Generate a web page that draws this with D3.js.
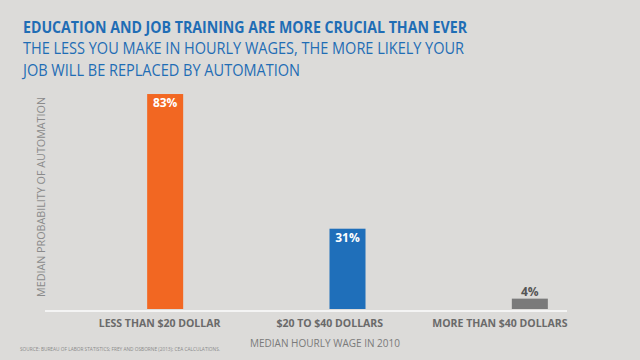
<!DOCTYPE html>
<html><head><meta charset="utf-8">
<script src="https://cdn.jsdelivr.net/npm/d3@7"></script>
<style>html,body{margin:0;padding:0;background:#dcdbd9;}svg{display:block;}</style>
</head><body><svg id="c" width="640" height="360"></svg>
<script>
const categories = ["LESS THAN $20 DOLLAR", "$20 TO $40 DOLLARS", "MORE THAN $40 DOLLARS"];
const values = [83, 31, 4];
const valueLabels = ["83%", "31%", "4%"];
const barColors = ["#f26722", "#1f6fba", "#7a7a7a"];
const labelColors = ["#ffffff", "#ffffff", "#555555"];
const title = "EDUCATION AND JOB TRAINING ARE MORE CRUCIAL THAN EVER";
const subtitle = ["THE LESS YOU MAKE IN HOURLY WAGES, THE MORE LIKELY YOUR", "JOB WILL BE REPLACED BY AUTOMATION"];
const yTitle = "MEDIAN PROBABILITY OF AUTOMATION";
const xTitle = "MEDIAN HOURLY WAGE IN 2010";
const source = "SOURCE: BUREAU OF LABOR STATISTICS; FREY AND OSBORNE (2013); CEA CALCULATIONS.";

const svg = d3.select("#c");
svg.append("rect").attr("width",640).attr("height",360).attr("fill","#dcdbd9");
const font = "'Open Sans', sans-serif";

svg.append("text").attr("x",23).attr("y",33).attr("font-family",font).attr("font-weight",700)
  .attr("font-size",15.5).attr("fill","#1f6db5").attr("textLength",444).attr("lengthAdjust","spacingAndGlyphs").text(title);
subtitle.forEach((s,i)=>{
  svg.append("text").attr("x",23).attr("y",54+i*22).attr("font-family",font).attr("font-weight",400)
    .attr("font-size",16).attr("fill","#1f6db5").attr("textLength", i===0?441:277).attr("lengthAdjust","spacingAndGlyphs").text(s);
});

const x = d3.scaleBand().domain(categories).range([74,621]).paddingInner(0.8025).paddingOuter(0.40125);
const xl = d3.scaleBand().domain(categories).range([74.5,585]);
const y = d3.scaleLinear().domain([0,100]).range([309,50]);

svg.append("line").attr("x1",45).attr("x2",567).attr("y1",311).attr("y2",311).attr("stroke","#f4f4f4").attr("stroke-width",2);

svg.selectAll("rect.bar").data(values).join("rect").attr("class","bar")
  .attr("x",(d,i)=>x(categories[i])).attr("width",x.bandwidth())
  .attr("y",d=>y(d)).attr("height",d=>y(0)-y(d)).attr("fill",(d,i)=>barColors[i]);

svg.selectAll("text.val").data(values).join("text").attr("class","val")
  .attr("x",(d,i)=>x(categories[i])+x.bandwidth()/2)
  .attr("y",(d,i)=> i<2 ? y(d)+13 : y(d)-3)
  .attr("text-anchor","middle").attr("font-family",font).attr("font-weight",700).attr("font-size",12)
  .attr("fill",(d,i)=>labelColors[i]).text((d,i)=>valueLabels[i]);

svg.selectAll("text.cat").data(categories).join("text").attr("class","cat")
  .attr("x",d=>xl(d)+xl.bandwidth()/2).attr("y",327).attr("text-anchor","middle")
  .attr("font-family",font).attr("font-weight",700).attr("font-size",10.5).attr("fill","#6a6a6a").text(d=>d);

svg.append("text").attr("x",325).attr("y",347).attr("text-anchor","middle").attr("font-family",font)
  .attr("font-size",11.5).attr("fill","#7a7a7a").attr("textLength",150).attr("lengthAdjust","spacingAndGlyphs").text(xTitle);

svg.append("text").attr("transform","translate(45,197) rotate(-90)").attr("text-anchor","middle")
  .attr("font-family",font).attr("font-size",11).attr("fill","#8a8a8a").attr("textLength",200).attr("lengthAdjust","spacingAndGlyphs").text(yTitle);

svg.append("text").attr("x",20).attr("y",351).attr("font-family",font).attr("font-size",5).attr("fill","#8a8a8a")
  .attr("textLength",200).attr("lengthAdjust","spacingAndGlyphs").text(source);
</script></body></html>
